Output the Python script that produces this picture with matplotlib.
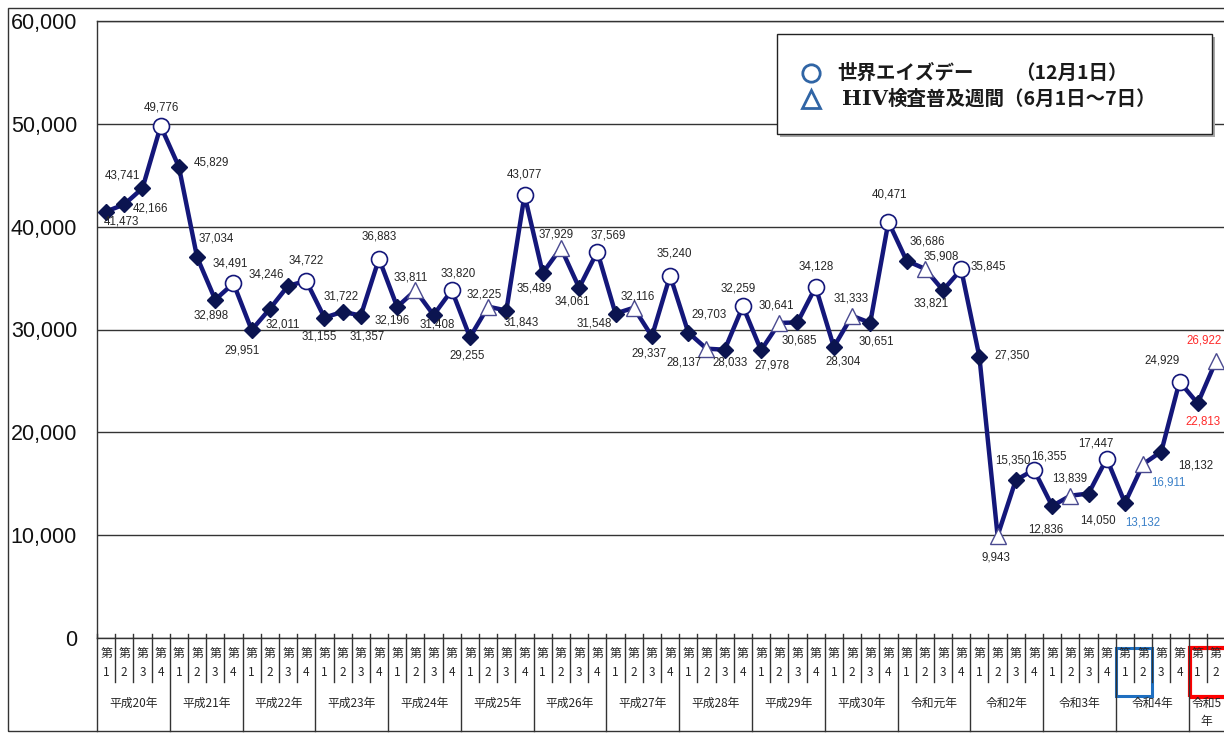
import matplotlib.pyplot as plt
from matplotlib.patches import Rectangle
from matplotlib.lines import Line2D

plt.rcParams['font.family'] = ['Noto Sans CJK JP', 'DejaVu Sans']

# quarterly HIV test counts, 平成20年 Q1 .. 令和5年 Q2
years = ['平成20年', '平成21年', '平成22年', '平成23年', '平成24年', '平成25年',
         '平成26年', '平成27年', '平成28年', '平成29年', '平成30年', '令和元年',
         '令和2年', '令和3年', '令和4年', '令和5\n年']
year_quarters = [4] * 15 + [2]
quarters = [1, 2, 3, 4] * 15 + [1, 2]
values = [41473, 42166, 43741, 49776,
          45829, 37034, 32898, 34491,
          29951, 32011, 34246, 34722,
          31155, 31722, 31357, 36883,
          32196, 33811, 31408, 33820,
          29255, 32225, 31843, 43077,
          35489, 37929, 34061, 37569,
          31548, 32116, 29337, 35240,
          29703, 28137, 28033, 32259,
          27978, 30641, 30685, 34128,
          28304, 31333, 30651, 40471,
          36686, 35908, 33821, 35845,
          27350, 9943, 15350, 16355,
          12836, 13839, 14050, 17447,
          13132, 16911, 18132, 24929,
          22813, 26922]
first_test_week = 17  # HIV検査普及週間 marked from 平成24年 Q2

# label placement, pixel offsets from each point (dx right, dy down)
label_offsets = [(15, 10), (26, 4), (-20, -13), (1, -19),
                 (33, -4), (19, -19), (-4, 16), (-3, -20),
                 (-10, 20), (13, 16), (-22, -11), (0, -20),
                 (-5, 19), (-1, -15), (6, 21), (0, -22),
                 (-5, 14), (-5, -13), (4, 9), (6, -17),
                 (-3, 18), (-4, -12), (15, 12), (0, -21),
                 (-8, 15), (-5, -13), (-7, 14), (11, -16),
                 (-21, 10), (4, -11), (-3, 17), (4, -22),
                 (21, -18), (-22, 14), (5, 13), (-5, -18),
                 (11, 15), (-3, -17), (2, 18), (1, -21),
                 (9, 15), (-1, -17), (6, 19), (1, -27),
                 (21, -19), (16, -12), (-12, 13), (27, -3),
                 (33, -1), (-2, 22), (-3, -20), (15, -13),
                 (-6, 23), (-1, -17), (9, 27), (-11, -15),
                 (18, 20), (25, 18), (34, 14), (-17, -21),
                 (5, 18), (-12, -21)]
label_colors = {56: '#3a80c8', 57: '#3a80c8', 60: '#ff2a2a', 61: '#ff2a2a'}

W, H = 1224, 733
LINE = '#14177a'
DARK = '#0b1450'
TXT = '#262626'

fig = plt.figure(figsize=(W / 100, H / 100), dpi=100)
ax = fig.add_axes([97 / W, 1 - 638 / H, 1128 / W, 617 / H])

x = list(range(len(values)))
circ = [i for i in x if quarters[i] == 4]
tri = [i for i in x if quarters[i] == 2 and i >= first_test_week]
dia = [i for i in x if i not in circ and i not in tri]

ax.plot(x, values, color=LINE, lw=3.2, zorder=3, solid_joinstyle='miter')
ax.plot(dia, [values[i] for i in dia], 'D', ms=8.5, color=DARK, zorder=4)
ax.plot(circ, [values[i] for i in circ], 'o', ms=11.5, mfc='white',
        mec=LINE, mew=1.2, zorder=4)
ax.plot(tri, [values[i] for i in tri], '^', ms=12, mfc='white',
        mec='#4a4a90', mew=1.0, zorder=4)

for i, v in enumerate(values):
    dx, dy = label_offsets[i]
    ax.annotate(f'{v:,}', (i, v), xytext=(dx, -dy), textcoords='offset pixels',
                ha='center', va='center', fontsize=8.3,
                family='Liberation Sans', color=label_colors.get(i, TXT),
                zorder=5, annotation_clip=False)

ax.set_xlim(-0.5, 61.5)
ax.set_ylim(0, 60000)
ax.set_yticks(range(0, 60001, 10000))
ax.set_yticklabels([f'{t:,}' for t in range(0, 60001, 10000)],
                   fontsize=15.5, family='Liberation Sans', color='#111')
ax.tick_params(axis='y', length=0, pad=14.4)
ax.set_xticks([])
ax.grid(axis='y', color='#333333', lw=1)
for s in ax.spines.values():
    s.set_color('#333333')
    s.set_linewidth(1)

# category table under the axis
tr = ax.get_xaxis_transform()
py = lambda p: (638 - p) / 617
bounds = [0]
for n in year_quarters:
    bounds.append(bounds[-1] + n)
for k in range(len(values) + 1):
    bottom = py(731) if k in bounds else py(682)
    ax.plot([k - 0.5, k - 0.5], [py(634), bottom], color='#333333', lw=1,
            transform=tr, clip_on=False)
for i, q in enumerate(quarters):
    ax.text(i, py(654), '第', transform=tr, ha='center', va='center',
            fontsize=8.5, color=TXT)
    ax.text(i, py(672), str(q), transform=tr, ha='center', va='center',
            fontsize=8.5, color=TXT)
for j, name in enumerate(years):
    xc = (bounds[j] + bounds[j + 1] - 1) / 2
    ax.text(xc, py(697), name, transform=tr, ha='center', va='top',
            fontsize=8.5, color=TXT, linespacing=1.5)

ax.add_patch(Rectangle((55.5, py(696)), 2, py(648) - py(696), transform=tr,
                       fill=False, ec='#1f6fc0', lw=2.2, clip_on=False))
ax.add_patch(Rectangle((59.6, py(697)), 2, py(648) - py(697), transform=tr,
                       fill=False, ec='#ff0000', lw=3, clip_on=False))

# outer frame
fig.add_artist(Rectangle((8 / W, 1 - 731 / H), 1230 / W, 723 / H,
                         fill=False, ec='#333333', lw=1,
                         transform=fig.transFigure))

# legend box
fig.add_artist(Rectangle((780 / W, 1 - 137 / H), 435 / W, 100 / H,
                         fc='#a8a8a8', ec='none', transform=fig.transFigure,
                         zorder=6))
fig.add_artist(Rectangle((777 / W, 1 - 134 / H), 435 / W, 100 / H,
                         fc='white', ec='#222222', lw=1,
                         transform=fig.transFigure, zorder=7))
fig.add_artist(Line2D([811 / W], [1 - 73 / H], marker='o', ms=12.5, mfc='none',
                      mec='#3065a5', mew=2, transform=fig.transFigure, zorder=8))
fig.add_artist(Line2D([811 / W], [1 - 99 / H], marker='^', ms=13, mfc='none',
                      mec='#3065a5', mew=2, transform=fig.transFigure, zorder=8))
fig.text(837 / W, 1 - 73 / H, '世界エイズデー', fontsize=14, fontweight='bold',
         va='center', ha='left', color='#1a1a1a', zorder=8)
fig.text(1015 / W, 1 - 73 / H, '（12月1日）', fontsize=14, fontweight='bold',
         va='center', ha='left', color='#1a1a1a', zorder=8)
fig.text(888 / W, 1 - 99 / H, 'HIV', fontsize=15, fontweight='bold',
         family='DejaVu Serif', va='center', ha='right', color='#1a1a1a', zorder=8)
fig.text(888 / W, 1 - 99 / H, '検査普及週間（6月1日～7日）', fontsize=14,
         fontweight='bold', va='center', ha='left', color='#1a1a1a', zorder=8)

fig.savefig('out.png', dpi=100)
